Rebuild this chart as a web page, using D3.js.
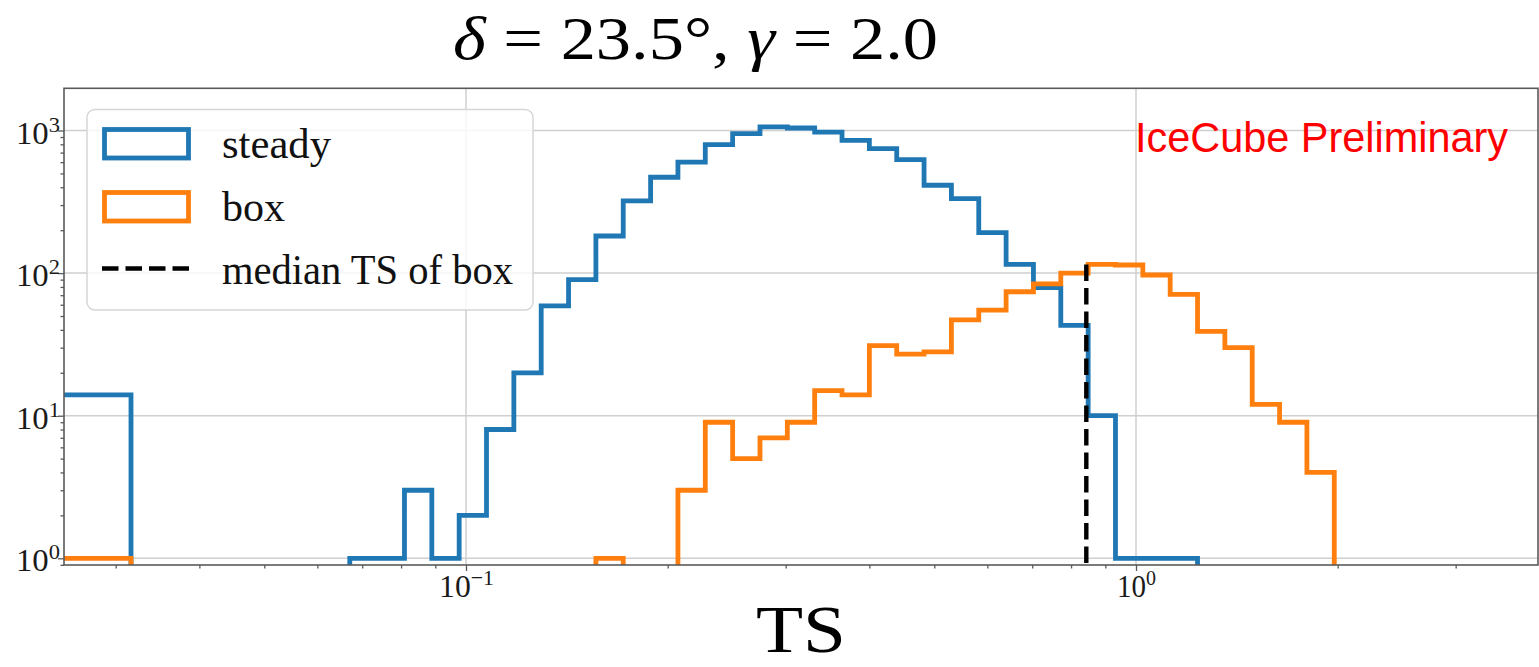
<!DOCTYPE html>
<html>
<head>
<meta charset="utf-8">
<script src="https://cdn.jsdelivr.net/npm/d3@7"></script>
<style>
  body { margin: 0; background: #fff; }
  svg { display: block; }
</style>
</head>
<body>
<svg id="chart" width="1539" height="667"></svg>
<script>
// Histogram binning: an underflow bin starting at TS = 0, followed by
// 49 log-spaced bins between 10^-1.5 and 10^0.5 (np.logspace(-1.5, 0.5, 50)).
const binEdges = [0].concat(d3.range(50).map(i => Math.pow(10, -1.5 + i * 2 / 49)));

// Counts per bin (first entry = underflow bin [0, 10^-1.5))
const steadyCounts = [
  14,
  0, 0, 0, 0, 0, 0, 0, 0,
  1, 1, 3, 1, 2, 8, 20, 59, 90, 182,
  321, 470, 600, 796, 951, 1059, 1041, 975, 854, 747,
  625, 413, 333, 192, 115, 79, 43, 10, 1, 1,
  1,
  0, 0, 0, 0, 0, 0, 0, 0, 0, 0
];
const boxCounts = [
  1,
  0, 0, 0, 0, 0, 0, 0, 0, 0, 0, 0, 0, 0, 0, 0, 0, 0,
  1, 0, 0,
  3, 9, 5, 7, 9, 15, 14, 31, 27, 28,
  47, 55, 74, 84, 100, 115, 114, 97, 71, 39,
  30, 12, 9, 4,
  0, 0, 0, 0, 0
];
const medianTSBox = 0.843;

const seriesNames = ["steady", "box"];
const seriesColors = ["#1f77b4", "#ff7f0e"];
const medianLabel = "median TS of box";

const xTickValues = [0.1, 1];
const xTickExponents = ["\u22121", "0"];
const yTickValues = [1, 10, 100, 1000];
const yTickExponents = ["0", "1", "2", "3"];

// ---- layout ----
const plot = { left: 64, right: 1538, top: 88.3, bottom: 565 };

const x = d3.scaleLog()
  .domain([Math.pow(10, -1.6), Math.pow(10, 0.6)])
  .range([plot.left, plot.right]);
const y = d3.scaleLog()
  .domain([Math.pow(10, -0.047), Math.pow(10, 3.296)])
  .range([plot.bottom, plot.top]);

// Non-positive values sit at -infinity on a log axis: push them outside the plot and clip.
const sx = v => v > 0 ? x(v) : plot.left - 200;
const sy = v => v > 0 ? y(v) : plot.bottom + 200;

const svg = d3.select("#chart");
const serif = "'Liberation Serif', 'DejaVu Serif', serif";
const axisColor = "#5a5a5a";

svg.append("defs").append("clipPath").attr("id", "plotClip")
  .append("rect")
  .attr("x", plot.left).attr("y", plot.top)
  .attr("width", plot.right - plot.left).attr("height", plot.bottom - plot.top);

// ---- grid ----
const grid = svg.append("g").attr("stroke", "#cfcfcf").attr("stroke-width", 1.5);
grid.selectAll("line.gx").data(xTickValues).join("line")
  .attr("x1", d => x(d)).attr("x2", d => x(d))
  .attr("y1", plot.top).attr("y2", plot.bottom);
grid.selectAll("line.gy").data(yTickValues).join("line")
  .attr("y1", d => y(d)).attr("y2", d => y(d))
  .attr("x1", plot.left).attr("x2", plot.right);

// ---- histograms (step style) ----
function stepPoints(edges, counts) {
  const pts = [[edges[0], 0]];
  counts.forEach((c, i) => {
    pts.push([edges[i], c]);
    pts.push([edges[i + 1], c]);
  });
  pts.push([edges[edges.length - 1], 0]);
  return pts;
}
const stepLine = d3.line().x(d => sx(d[0])).y(d => sy(d[1]));

const histG = svg.append("g").attr("clip-path", "url(#plotClip)");
[steadyCounts, boxCounts].forEach((counts, i) => {
  histG.append("path")
    .attr("d", stepLine(stepPoints(binEdges, counts)))
    .attr("fill", "none")
    .attr("stroke", seriesColors[i])
    .attr("stroke-width", 4.8)
    .attr("stroke-linejoin", "miter");
});

// median TS of the box distribution
histG.append("line")
  .attr("x1", x(medianTSBox)).attr("x2", x(medianTSBox))
  .attr("y1", y(d3.max(boxCounts))).attr("y2", plot.bottom + 10)
  .attr("stroke", "#000").attr("stroke-width", 4.4)
  .attr("stroke-dasharray", "16.5 7");

// ---- frame ----
svg.append("rect")
  .attr("x", plot.left).attr("y", plot.top)
  .attr("width", plot.right - plot.left).attr("height", plot.bottom - plot.top)
  .attr("fill", "none").attr("stroke", axisColor).attr("stroke-width", 1.6);

// ---- ticks ----
const xMinor = x.ticks().filter(v => !xTickValues.some(t => Math.abs(t - v) < 1e-9));
const yMinor = y.ticks().filter(v => !yTickValues.some(t => Math.abs(t - v) < 1e-9));

const xAxisMajor = d3.axisBottom(x).tickValues(xTickValues).tickFormat("").tickSizeOuter(0).tickSizeInner(6);
const xAxisMinor = d3.axisBottom(x).tickValues(xMinor).tickFormat("").tickSizeOuter(0).tickSizeInner(3.5);
const yAxisMajor = d3.axisLeft(y).tickValues(yTickValues).tickFormat("").tickSizeOuter(0).tickSizeInner(6);
const yAxisMinor = d3.axisLeft(y).tickValues(yMinor).tickFormat("").tickSizeOuter(0).tickSizeInner(3.5);

function styleAxis(g) {
  g.select(".domain").remove();
  g.selectAll(".tick line").attr("stroke", axisColor).attr("stroke-width", 1.3);
}
svg.append("g").attr("transform", `translate(0,${plot.bottom})`).call(xAxisMajor).call(styleAxis);
svg.append("g").attr("transform", `translate(0,${plot.bottom})`).call(xAxisMinor).call(styleAxis);
svg.append("g").attr("transform", `translate(${plot.left},0)`).call(yAxisMajor).call(styleAxis);
svg.append("g").attr("transform", `translate(${plot.left},0)`).call(yAxisMinor).call(styleAxis);

// tick labels as 10^n
const xLabelWidths = [55, 39];
xTickValues.forEach((v, i) => {
  const t = svg.append("text")
    .attr("x", x(v) - xLabelWidths[i] / 2 + 0.5)
    .attr("y", 597)
    .attr("font-family", serif).attr("font-size", 32).attr("fill", "#1a1a1a")
    .attr("textLength", xLabelWidths[i]).attr("lengthAdjust", "spacingAndGlyphs");
  t.append("tspan").text("10");
  t.append("tspan").attr("dy", -12).attr("font-size", 22).text(xTickExponents[i]);
});
yTickValues.forEach((v, i) => {
  const t = svg.append("text")
    .attr("x", 16)
    .attr("y", y(v) + 13)
    .attr("font-family", serif).attr("font-size", 32).attr("fill", "#1a1a1a")
    .attr("textLength", 44).attr("lengthAdjust", "spacingAndGlyphs");
  t.append("tspan").text("10");
  t.append("tspan").attr("dy", -12).attr("font-size", 22).text(yTickExponents[i]);
});

// ---- axis title ----
svg.append("text")
  .attr("x", 756).attr("y", 652)
  .attr("font-family", serif).attr("font-size", 68).attr("fill", "#000")
  .attr("textLength", 90).attr("lengthAdjust", "spacingAndGlyphs")
  .text("TS");

// ---- chart title ----
const title = svg.append("text")
  .attr("x", 453).attr("y", 59)
  .attr("font-family", serif).attr("font-size", 62).attr("fill", "#000")
  .attr("textLength", 485).attr("lengthAdjust", "spacingAndGlyphs");
title.append("tspan").attr("font-style", "italic").text("\u03b4");
title.append("tspan").text(" = 23.5\u00b0, ");
title.append("tspan").attr("font-style", "italic").text("\u03b3");
title.append("tspan").text(" = 2.0");

// ---- watermark ----
svg.append("text")
  .attr("x", 1135).attr("y", 152)
  .attr("font-family", "'Liberation Sans', 'DejaVu Sans', sans-serif")
  .attr("font-size", 42).attr("fill", "#ff0000")
  .attr("textLength", 373).attr("lengthAdjust", "spacingAndGlyphs")
  .text("IceCube Preliminary");

// ---- legend ----
const legend = svg.append("g");
legend.append("rect")
  .attr("x", 87).attr("y", 109.5).attr("width", 446).attr("height", 200.5)
  .attr("rx", 8).attr("ry", 8)
  .attr("fill", "#fff").attr("fill-opacity", 0.8)
  .attr("stroke", "#d6d6d6").attr("stroke-width", 1.5);

const rowBaselines = [158, 221, 283.5];
const labelWidths = [109, 63, 291];
seriesNames.forEach((name, i) => {
  legend.append("rect")
    .attr("x", 104.5).attr("y", rowBaselines[i] - 28.5)
    .attr("width", 84).attr("height", 28.5)
    .attr("fill", "none").attr("stroke", seriesColors[i]).attr("stroke-width", 4.8);
});
legend.append("line")
  .attr("x1", 102).attr("x2", 191)
  .attr("y1", 268.5).attr("y2", 268.5)
  .attr("stroke", "#000").attr("stroke-width", 4.4)
  .attr("stroke-dasharray", "16.5 7");

seriesNames.concat([medianLabel]).forEach((label, i) => {
  legend.append("text")
    .attr("x", 222).attr("y", rowBaselines[i])
    .attr("font-family", serif).attr("font-size", 42).attr("fill", "#111")
    .attr("textLength", labelWidths[i]).attr("lengthAdjust", "spacingAndGlyphs")
    .text(label);
});
</script>
</body>
</html>
